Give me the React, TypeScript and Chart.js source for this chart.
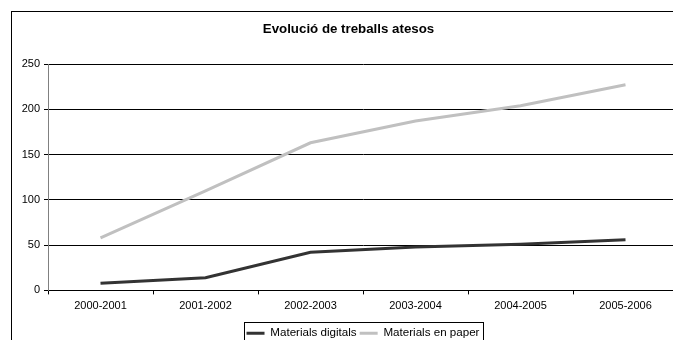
import React, { useEffect, useRef } from "react";
import { Chart, registerables } from "chart.js";

Chart.register(...registerables);

const chartTitle = "Evolució de treballs atesos";
const categories = ["2000-2001", "2001-2002", "2002-2003", "2003-2004", "2004-2005", "2005-2006"];
const seriesNames = ["Materials digitals", "Materials en paper"];
const digitalValues = [8, 14, 42, 48, 51, 56];
const paperValues = [58, 110, 163, 187, 204, 227];
const yTicks = [0, 50, 100, 150, 200, 250];

const FONT = "Arial, 'Liberation Sans', Helvetica, sans-serif";

const framePlugin = {
  id: "frame",
  beforeDraw(chart: any) {
    const ctx = chart.ctx;
    ctx.save();
    ctx.strokeStyle = "#000";
    ctx.lineWidth = 1;
    ctx.strokeRect(11.5, 11.5, 720, 400);
    ctx.restore();
  },
  afterDraw(chart: any) {
    const lg = chart.legend;
    if (!lg || !lg.legendHitBoxes || !lg.legendHitBoxes.length) return;
    const hb = lg.legendHitBoxes;
    let l = Infinity, r = -Infinity, t = Infinity, b = -Infinity;
    hb.forEach((h: any) => {
      l = Math.min(l, h.left);
      r = Math.max(r, h.left + h.width);
      t = Math.min(t, h.top);
      b = Math.max(b, h.top + h.height);
    });
    const ctx = chart.ctx;
    ctx.save();
    ctx.strokeStyle = "#000";
    ctx.lineWidth = 1;
    const x0 = Math.round(l - 3) + 0.5;
    const x1 = Math.round(r + 4) + 0.5;
    const y0 = Math.round(t - 5) + 0.5;
    const y1 = Math.round(b + 9) + 0.5;
    ctx.strokeRect(x0, y0, x1 - x0, y1 - y0);
    ctx.restore();
  },
};

export default function App() {
  const ref = useRef<HTMLCanvasElement | null>(null);
  useEffect(() => {
    if (!ref.current) return;
    const chart = new Chart(ref.current, {
      type: "line",
      data: {
        labels: categories,
        datasets: [
          {
            label: seriesNames[0],
            data: digitalValues,
            borderColor: "#333333",
            backgroundColor: "#333333",
            borderWidth: 3,
            pointRadius: 0,
            tension: 0,
          },
          {
            label: seriesNames[1],
            data: paperValues,
            borderColor: "#c0c0c0",
            backgroundColor: "#c0c0c0",
            borderWidth: 3,
            pointRadius: 0,
            tension: 0,
          },
        ],
      },
      options: {
        responsive: false,
        animation: false,
        devicePixelRatio: 1,
        layout: { padding: { left: 19, right: 19, top: 0, bottom: 11 } },
        plugins: {
          tooltip: { enabled: false },
          title: {
            display: true,
            text: chartTitle,
            color: "#000",
            font: { family: FONT, size: 13.3, weight: "bold" },
            padding: { top: 21.2, bottom: 26.84 },
          },
          legend: {
            display: true,
            position: "bottom",
            fullSize: false,
            labels: {
              color: "#000",
              font: { family: FONT, size: 11.6 },
              boxWidth: 18,
              boxHeight: 3,
              padding: 3,
              generateLabels: (c: any) =>
                c.data.datasets.map((ds: any, i: number) => ({
                  text: ds.label,
                  fillStyle: ds.borderColor,
                  strokeStyle: ds.borderColor,
                  lineWidth: 0,
                  hidden: false,
                  datasetIndex: i,
                  fontColor: "#000",
                })),
            },
          },
        },
        scales: {
          x: {
            type: "category",
            offset: true,
            grid: {
              display: true,
              drawOnChartArea: false,
              drawTicks: true,
              tickLength: 4,
              tickColor: "#000",
              offset: true,
            },
            border: { display: true, color: "#000", width: 1 },
            ticks: {
              color: "#000",
              font: { family: FONT, size: 11 },
              padding: 5,
              maxRotation: 0,
              autoSkip: false,
            },
            afterFit: (s: any) => {
              s.height = 34;
            },
          },
          y: {
            min: 0,
            max: 250,
            afterBuildTicks: (s: any) => {
              s.ticks = yTicks.map((v) => ({ value: v }));
            },
            grid: {
              display: true,
              color: "#000",
              lineWidth: 1,
              drawTicks: true,
              tickLength: 4,
              tickColor: "#000",
            },
            border: { display: true, color: "#808080", width: 1 },
            ticks: {
              color: "#000",
              font: { family: FONT, size: 11 },
              padding: 4,
            },
            afterFit: (s: any) => {
              s.width = 29;
            },
          },
        },
      },
      plugins: [framePlugin],
    });
    return () => chart.destroy();
  }, []);

  return (
    <div style={{ position: "fixed", left: 0, top: 0, width: 673, height: 340, overflow: "hidden", background: "#fff" }}>
      <canvas ref={ref} width={697} height={360} style={{ display: "block", width: 697, height: 360 }} />
    </div>
  );
}
